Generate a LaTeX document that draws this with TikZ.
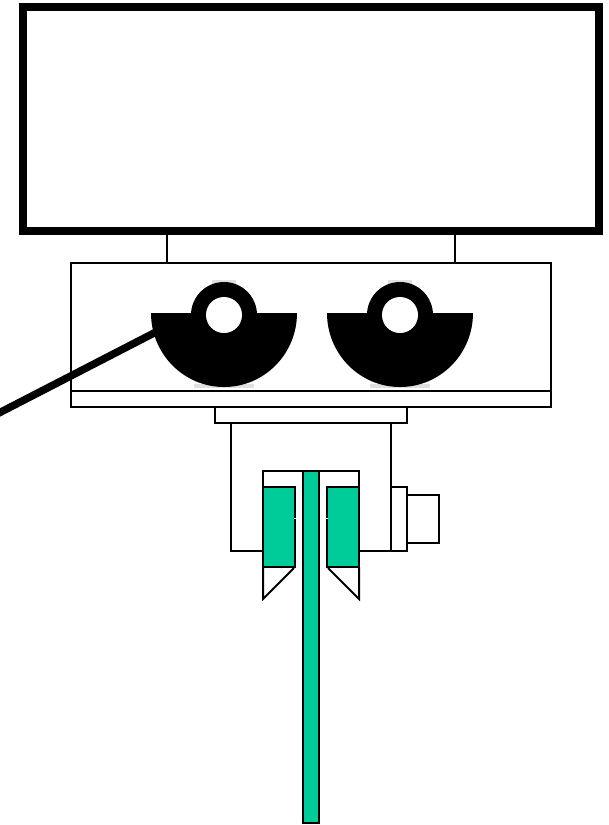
\documentclass[tikz,border=0pt]{standalone}
\definecolor{tealgreen}{RGB}{0,204,153}
\definecolor{faintgrey}{RGB}{225,225,225}
\tikzset{
  thin outline/.style={draw=black,line width=2pt,line join=miter},
  green part/.style={thin outline,fill=tealgreen},
  pulley/.style={fill=black,draw=none}
}
\begin{document}
\begin{tikzpicture}[x=1pt,y=-1pt]
\useasboundingbox (0,0) rectangle (609,825);
% top block
\draw[black,line width=8pt] (23,7) rectangle (599,231);
% neck and body
\draw[thin outline] (167,231) -- (167,263);
\draw[thin outline] (455,231) -- (455,263);
\draw[thin outline] (71,263) rectangle (551,391);
\draw[thin outline] (71,391) rectangle (551,407);
\draw[thin outline] (215,407) rectangle (407,423);
% frame
\draw[thin outline] (231,423) -- (231,551) -- (263,551);
\draw[thin outline] (391,423) -- (391,551) -- (359,551);
\draw[thin outline] (263,487) -- (263,471) -- (359,471) -- (359,487);
% side parts
\draw[thin outline] (391,487) rectangle (407,551);
\draw[thin outline] (407,495) rectangle (439,543);
% clamps
\draw[green part] (263,487) rectangle (295,567);
\draw[green part] (327,487) rectangle (359,567);
\draw[thin outline] (263,567) -- (263,599) -- (294,568);
\draw[thin outline] (328,568) -- (359,599) -- (359,567);
\fill[white] (294,517.6) rectangle (296.5,518.4);
\fill[white] (325.5,517.6) rectangle (328,518.4);
% rod
\draw[green part] (303,471) rectangle (319,823);
% pulleys
\foreach \cx in {224,400}{
  \fill[faintgrey] (\cx-12,279.5) rectangle (\cx+12,284);
  \fill[faintgrey] (\cx-30,384) rectangle (\cx+30,387.5);
  \fill[pulley] (\cx-73,313) -- (\cx+73,313) arc[start angle=0,end angle=180,x radius=73,y radius=74,y=-1pt] -- cycle;
  \fill[pulley] (\cx,315) circle[radius=33];
  \fill[white] (\cx,315) circle[radius=18];
}
% leader
\draw[black,line width=7.5pt] (-3,414) -- (155,332.5);
\end{tikzpicture}
\end{document}
